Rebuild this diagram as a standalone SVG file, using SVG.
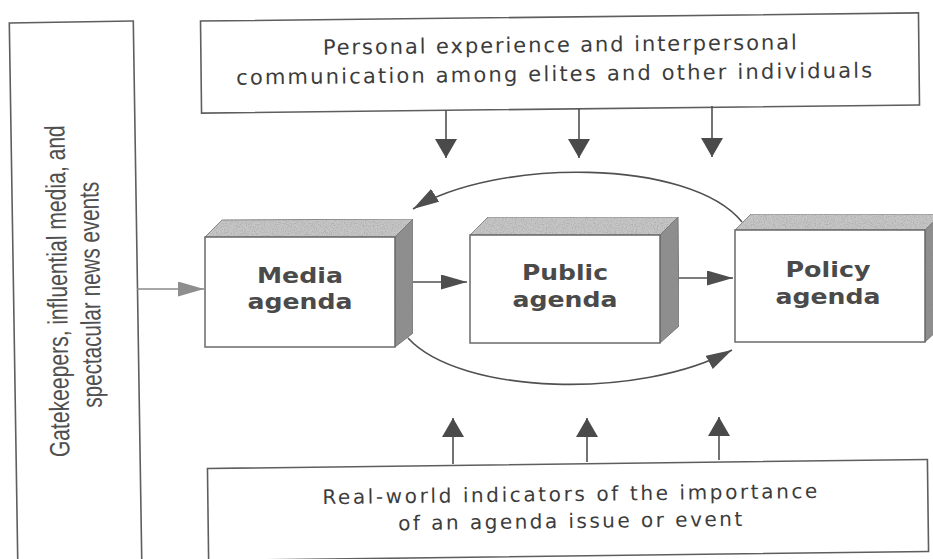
<svg xmlns="http://www.w3.org/2000/svg" width="933" height="559" viewBox="0 0 933 559">
  <style>
    .frame { fill: #ffffff; stroke: #5e5e5e; stroke-width: 1.6; }
    .note { font-family: "DejaVu Sans", "Liberation Sans", sans-serif; font-size: 21px; fill: #3c3c3c; }
    .small { font-size: 20px; }
    .side-note { font-family: "Liberation Sans Narrow", "Liberation Sans", sans-serif; font-size: 28px; fill: #505050; }
    .face { fill: #ffffff; stroke: #6a6a6a; stroke-width: 1.5; }
    .top { fill: #c6c6c6; stroke: #8a8a8a; stroke-width: 1; }
    .side { fill: #8f8f8f; stroke: #777777; stroke-width: 1; }
    .label { font-family: "DejaVu Sans", "Liberation Sans", sans-serif; font-weight: bold; font-size: 22px; fill: #4a4a4a; text-anchor: middle; }
    .link { fill: none; stroke: #505050; stroke-width: 1.6; }
    .link-light { fill: none; stroke: #8a8a8a; stroke-width: 1.6; }
  </style>
  <defs>
    <marker id="head" markerUnits="userSpaceOnUse" markerWidth="26" markerHeight="15" refX="26" refY="7.5" orient="auto">
      <path d="M0,0 L26,7.5 L0,15 z" fill="#4e4e4e"/>
    </marker>
    <marker id="head-light" markerUnits="userSpaceOnUse" markerWidth="26" markerHeight="15" refX="26" refY="7.5" orient="auto">
      <path d="M0,0 L26,7.5 L0,15 z" fill="#8e8e8e"/>
    </marker>
    <marker id="head-wide" markerUnits="userSpaceOnUse" markerWidth="19" markerHeight="22" refX="19" refY="11" orient="auto">
      <path d="M0,0 L19,11 L0,22 z" fill="#4a4a4a"/>
    </marker>
    <filter id="grain" x="0" y="0" width="1" height="1">
      <feTurbulence type="fractalNoise" baseFrequency="0.9" numOctaves="2" seed="4" result="noise"/>
      <feColorMatrix in="noise" type="matrix" values="0 0 0 0 0.25  0 0 0 0 0.25  0 0 0 0 0.25  0 0 0 1.2 -0.5" result="specks"/>
      <feComposite in="specks" in2="SourceGraphic" operator="in" result="clipped"/>
      <feMerge><feMergeNode in="SourceGraphic"/><feMergeNode in="clipped"/></feMerge>
    </filter>
  </defs>

  <rect width="933" height="559" fill="#ffffff"/>

  <!-- outside influences: gatekeepers column -->
  <g id="gatekeepers" transform="rotate(-0.9 75 290)">
    <rect class="frame" x="13.5" y="22" width="124" height="580"/>
    <text class="side-note" transform="translate(67 291) rotate(-90)" text-anchor="middle" textLength="332" lengthAdjust="spacingAndGlyphs">Gatekeepers, influential media, and</text>
    <text class="side-note" transform="translate(100 295) rotate(-90)" text-anchor="middle" textLength="226" lengthAdjust="spacingAndGlyphs">spectacular news events</text>
  </g>

  <!-- personal experience box -->
  <g id="personal" transform="rotate(-0.65 560 63)">
    <rect class="frame" x="201" y="17" width="718" height="92"/>
    <text class="note" x="560" y="52" text-anchor="middle" textLength="474" lengthAdjust="spacing">Personal experience and interpersonal</text>
    <text class="note" x="554" y="81" text-anchor="middle" textLength="636" lengthAdjust="spacing">communication among elites and other individuals</text>
  </g>

  <!-- real-world indicators box -->
  <g id="indicators" transform="rotate(-0.72 568 509)">
    <rect class="frame" x="208" y="464" width="720" height="92"/>
    <text class="note small" x="570" y="501" text-anchor="middle" textLength="495" lengthAdjust="spacing">Real-world indicators of the importance</text>
    <text class="note small" x="570" y="528" text-anchor="middle" textLength="344" lengthAdjust="spacing">of an agenda issue or event</text>
  </g>

  <!-- media agenda block -->
  <g id="media">
    <polygon class="top" filter="url(#grain)" points="205,237 222,220 413,219 395,237"/>
    <polygon class="side" filter="url(#grain)" points="395,237 413,219 413,333 395,347"/>
    <rect class="face" x="205" y="237" width="190" height="110"/>
    <text class="label" x="300" y="283" textLength="86" lengthAdjust="spacingAndGlyphs">Media</text>
    <text class="label" x="300" y="309" textLength="105" lengthAdjust="spacingAndGlyphs">agenda</text>
  </g>

  <!-- public agenda block -->
  <g id="public">
    <polygon class="top" filter="url(#grain)" points="470,235 488,217 678,217 660,235"/>
    <polygon class="side" filter="url(#grain)" points="660,235 678,217 679,326 660,343"/>
    <rect class="face" x="470" y="235" width="190" height="108"/>
    <text class="label" x="565" y="280" textLength="86" lengthAdjust="spacingAndGlyphs">Public</text>
    <text class="label" x="565" y="307" textLength="105" lengthAdjust="spacingAndGlyphs">agenda</text>
  </g>

  <!-- policy agenda block -->
  <g id="policy">
    <polygon class="top" filter="url(#grain)" points="735,230 751,214 942,214 925,230"/>
    <polygon class="side" filter="url(#grain)" points="925,230 942,214 942,326 925,342"/>
    <rect class="face" x="735" y="230" width="190" height="112"/>
    <text class="label" x="828" y="277" textLength="85" lengthAdjust="spacingAndGlyphs">Policy</text>
    <text class="label" x="828" y="304" textLength="105" lengthAdjust="spacingAndGlyphs">agenda</text>
  </g>

  <!-- connectors -->
  <g id="connectors">
    <line class="link-light" x1="137" y1="289" x2="204" y2="289" marker-end="url(#head-light)"/>
    <line class="link" x1="413" y1="282" x2="467" y2="282" marker-end="url(#head)"/>
    <line class="link" x1="679" y1="278" x2="733" y2="278" marker-end="url(#head)"/>
    <path class="link" d="M742,222 C690,158 495,158 413,209" marker-end="url(#head)"/>
    <path class="link" d="M408,338 C460,395 640,400 732,350" marker-end="url(#head)"/>

    <line class="link" x1="446" y1="110" x2="446" y2="158" marker-end="url(#head-wide)"/>
    <line class="link" x1="579" y1="108" x2="579" y2="158" marker-end="url(#head-wide)"/>
    <line class="link" x1="712" y1="106" x2="712" y2="157" marker-end="url(#head-wide)"/>

    <line class="link" x1="453" y1="464" x2="453" y2="418" marker-end="url(#head-wide)"/>
    <line class="link" x1="587" y1="462" x2="587" y2="418" marker-end="url(#head-wide)"/>
    <line class="link" x1="719" y1="460" x2="719" y2="417" marker-end="url(#head-wide)"/>
  </g>
</svg>
